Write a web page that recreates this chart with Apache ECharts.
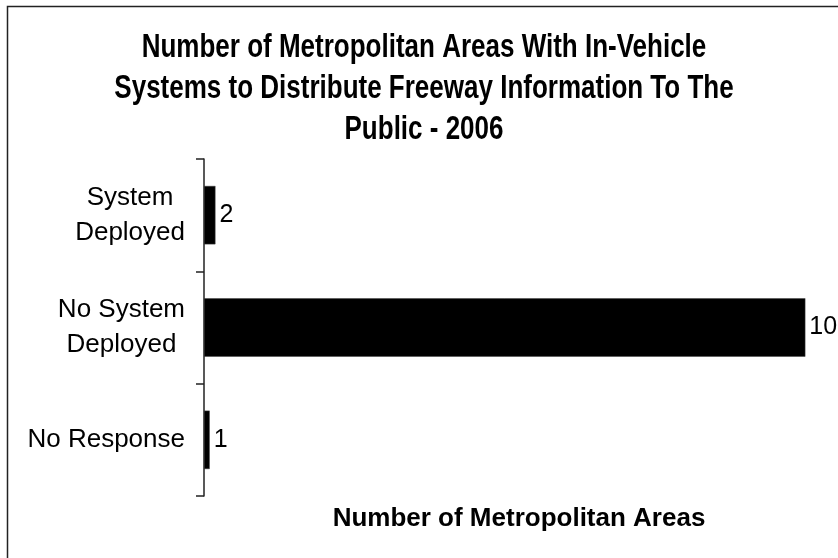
<!DOCTYPE html>
<html>
<head>
<meta charset="utf-8">
<script src="https://cdn.jsdelivr.net/npm/echarts@6/dist/echarts.min.js"></script>
<style>
  html, body { margin: 0; padding: 0; background: #fff; }
  #chart { width: 838px; height: 558px; }
</style>
</head>
<body>
<div id="chart"></div>
<script>
// Survey responses: metropolitan areas with in-vehicle freeway information systems (2006)
const categories = ['System\nDeployed', 'No System\nDeployed', 'No Response'];
const areaCounts = [2, 105, 1];
const axisMax = 110;

const titleText = 'Number of Metropolitan Areas With In-Vehicle\nSystems to Distribute Freeway Information To The\nPublic - 2006';
const axisTitle = 'Number of Metropolitan Areas';

const chart = echarts.init(document.getElementById('chart'), null, { renderer: 'canvas' });

chart.setOption({
  backgroundColor: '#ffffff',
  animation: false,
  graphic: [
    {
      // chart title, drawn with a tall narrow look
      type: 'text',
      x: 424,
      y: 27,
      scaleY: 1.28,
      silent: true,
      style: {
        text: titleText,
        align: 'center',
        verticalAlign: 'top',
        fontFamily: "'Liberation Sans', Arial, sans-serif",
        fontWeight: 'bold',
        fontSize: 26,
        lineHeight: 32,
        fill: '#000'
      }
    },
    {
      // outer chart frame
      type: 'rect',
      shape: { x: 7.5, y: 6.5, width: 900, height: 600 },
      style: { fill: 'none', stroke: '#222', lineWidth: 1.5 },
      silent: true,
      z: 100
    }
  ],
  grid: { left: 204, right: 4, top: 159, bottom: 62, containLabel: false },
  xAxis: {
    type: 'value',
    min: 0,
    max: axisMax,
    axisLine: { show: false },
    axisTick: { show: false },
    axisLabel: { show: false },
    splitLine: { show: false },
    name: axisTitle,
    nameLocation: 'middle',
    nameGap: 8,
    nameTextStyle: {
      fontFamily: "'Liberation Sans', Arial, sans-serif",
      fontWeight: 'bold',
      fontSize: 26,
      lineHeight: 30,
      color: '#000'
    }
  },
  yAxis: {
    type: 'category',
    data: categories,
    inverse: true,
    axisLine: { show: true, lineStyle: { color: '#222', width: 1.5 } },
    axisTick: { show: true, length: 8, inside: false, lineStyle: { color: '#222', width: 1.5 } },
    axisLabel: {
      margin: 19,
      align: 'right',
      formatter: function (v) {
        return v.split('\n').map(function (s) { return '{c|' + s + '}'; }).join('\n');
      },
      rich: {
        c: {
          align: 'center',
          fontFamily: "'Liberation Sans', Arial, sans-serif",
          fontSize: 26,
          lineHeight: 35,
          color: '#000'
        }
      }
    },
    splitLine: { show: false }
  },
  series: [{
    type: 'bar',
    data: areaCounts,
    barCategoryGap: '48%',
    itemStyle: { color: '#000', borderColor: '#444', borderWidth: 0.5 },
    label: {
      show: true,
      position: 'right',
      distance: 4,
      fontFamily: "'Liberation Sans', Arial, sans-serif",
      fontSize: 25,
      color: '#000'
    }
  }]
});
</script>
</body>
</html>
